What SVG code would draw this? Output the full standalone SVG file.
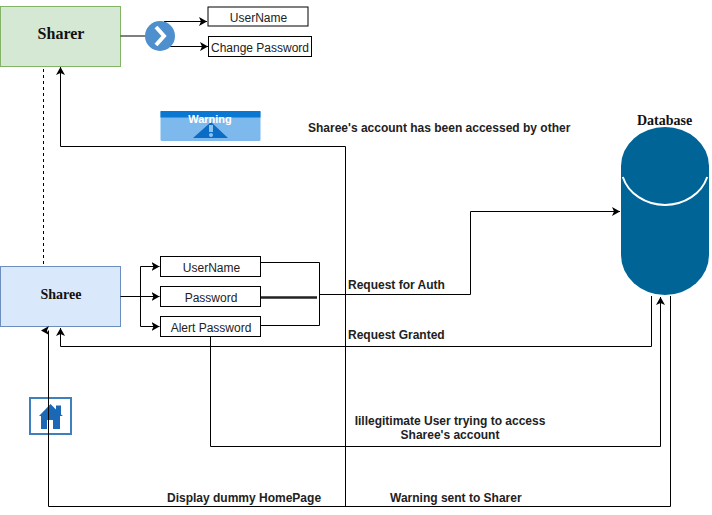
<svg xmlns="http://www.w3.org/2000/svg" width="712" height="515" viewBox="0 0 712 515">
<style>
text{font-family:"Liberation Sans",Arial,sans-serif;fill:#222}
.box{fill:#fff;stroke:#000;stroke-width:1}
.lb{font-size:12px;text-anchor:middle}
.t{font-size:12px;font-weight:bold}
.n{font-family:"Liberation Serif",serif;font-size:14px;font-weight:bold;text-anchor:middle;fill:#111}
.c{fill:none;stroke:#000;stroke-width:1}
</style>
<defs><marker id="a" markerUnits="userSpaceOnUse" markerWidth="9" markerHeight="10" refX="8" refY="4.5" orient="auto"><path d="M0 0L8 4.5L0 9L2 4.5Z" fill="#000"/></marker></defs>
<rect width="712" height="515" fill="#fff"/>
<g id="sharer"><rect x="0.5" y="6.5" width="120" height="60" fill="#d5e8d4" stroke="#82b366"/><text class="n" x="61" y="39" style="font-size:16px">Sharer</text></g>
<g id="sharee"><rect x="0.5" y="266.500" width="120" height="60" fill="#dae8fc" stroke="#6c8ebf"/><text class="n" x="61" y="299">Sharee</text></g>
<g id="warning"><rect x="160.500" y="111" width="100" height="30" rx="1.500" fill="#7db9ec"/><rect x="160.500" y="111" width="100" height="6.500" fill="#0a77d2"/><path d="M193 138L211 122L228 138Z" fill="#0a6cc4"/><rect x="209" y="125" width="4" height="7" fill="#8fc3ee"/><circle cx="211" cy="135" r="2" fill="#8fc3ee"/><text x="210" y="123" text-anchor="middle" font-size="11px" font-weight="bold" style="fill:#fff">Warning</text></g>
<g id="home"><rect x="30" y="398" width="41" height="36" fill="#fff" stroke="#3d80bd" stroke-width="2"/><path d="M39 416L50.500 404L56 409.500V405.500H61V414.500L63 416H60V429H53V420H47V429H41V416Z" fill="#1b68b6"/></g>
<g id="connectors">
<path class="c" d="M120.500 36H146"/><path class="c" d="M164 21.500H207" marker-end="url(#a)"/><path class="c" d="M170 46.500H208" marker-end="url(#a)"/>
<path class="c" d="M43.500 69V266" stroke-dasharray="3 3"/>
<path class="c" d="M345.500 506V146.500H60.500V67" marker-end="url(#a)"/>
<path class="c" d="M120.500 296.500H159.500" marker-end="url(#a)"/><path class="c" d="M140.500 266.500V326.500H159.500" marker-end="url(#a)"/><path class="c" d="M140.500 266.500H159.500" marker-end="url(#a)"/>
<path class="c" d="M260.500 262.500H319.500V325.500H260.500"/>
<path d="M259 297.500H317" fill="none" stroke="#222" stroke-width="2.500"/>
<path class="c" d="M319.500 294.500H470.500V211.500H620" marker-end="url(#a)"/>
<path class="c" d="M651.500 296V346.500H60.500V328" marker-end="url(#a)"/>
<path class="c" d="M210.500 336.500V446.500H660.500V297" marker-end="url(#a)"/>
<path class="c" d="M670.500 296V506.500H48.500V330.500"/><path d="M41 330.500L49 326L47 330.500L49 335Z" fill="#000"/>
</g>
<g id="database"><rect x="621" y="165" width="88" height="90" fill="#006596"/><ellipse cx="665" cy="255" rx="44" ry="40" fill="#006596"/><ellipse cx="665" cy="166" rx="44" ry="39" fill="#006596"/><path d="M622.800 177A44 39 0 0 0 707.200 177" fill="none" stroke="#fff" stroke-width="2"/><text class="n" x="664.500" y="125">Database</text></g>
<g id="n-username1"><rect class="box" x="208" y="7" width="100" height="19" stroke="#666"/><text class="lb" x="258.500" y="21.500">UserName</text></g>
<g id="n-change"><rect class="box" x="208.500" y="36.500" width="103" height="20"/><text class="lb" x="260" y="51.500">Change Password</text></g>
<g id="n-username2"><rect class="box" x="160.500" y="256.500" width="100" height="20"/><text class="lb" x="211.500" y="271.500">UserName</text></g>
<g id="n-password"><rect class="box" x="160.500" y="286.500" width="100" height="20"/><text class="lb" x="211" y="301.500">Password</text></g>
<g id="n-alert"><rect class="box" x="160.500" y="316.500" width="100" height="20"/><text class="lb" x="211" y="331.500">Alert Password</text></g>
<g id="chevron"><circle cx="160" cy="36" r="15" fill="#4e8fcd"/><path d="M156 27L164 36L156 45" fill="none" stroke="#fff" stroke-width="4"/></g>
<g id="labels">
<text class="t" x="308" y="132">Sharee's account has been accessed by other</text>
<text class="t" x="348" y="289">Request for Auth</text>
<text class="t" x="348" y="339">Request Granted</text>
<text class="t" x="450" y="425" text-anchor="middle">Iillegitimate User trying to access</text>
<text class="t" x="450" y="439" text-anchor="middle">Sharee's account</text>
<text class="t" x="167" y="502">Display dummy HomePage</text>
<text class="t" x="390" y="502">Warning sent to Sharer</text>
</g>
</svg>
